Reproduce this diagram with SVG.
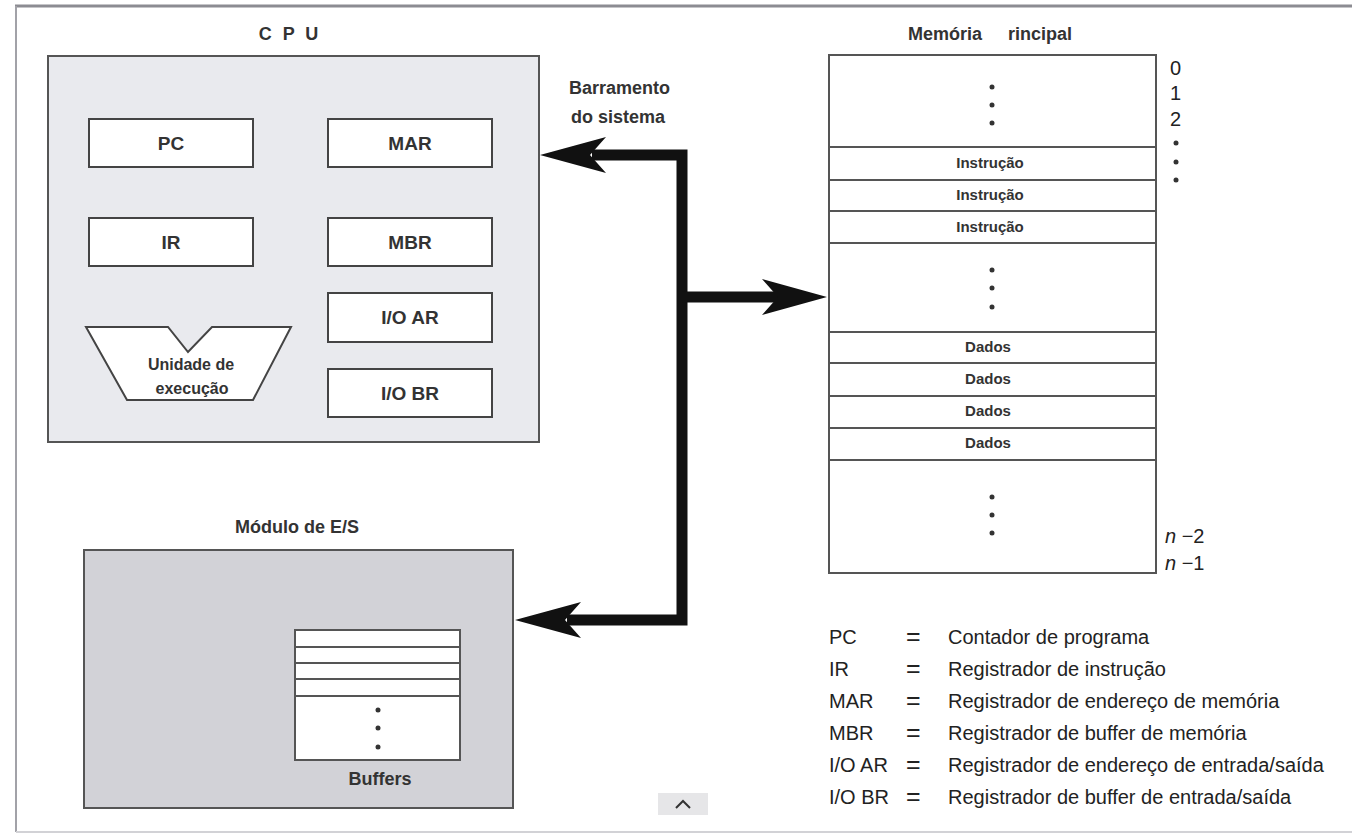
<svg xmlns="http://www.w3.org/2000/svg" width="1352" height="834" viewBox="0 0 1352 834">
  <defs>
    <style>
      .lbl { font-family: "Liberation Sans", Arial, sans-serif; font-weight: bold; fill: #333; }
      .reg { fill: #fff; stroke: #444; stroke-width: 2; }
      .cell { fill: #fff; stroke: #555; stroke-width: 2; }
      .div { stroke: #555; stroke-width: 2; }
      .leg { font-family: "Liberation Sans", Arial, sans-serif; font-size: 20px; fill: #222; }
      .eq { font-size: 25px; }
      .dot { fill: #333; }
      .bus { fill: none; stroke: #111; stroke-width: 11; stroke-linejoin: miter; }
      .head { fill: #111; }
    </style>
  </defs>

  <rect x="0" y="0" width="1352" height="834" fill="#fff"/>
  <!-- page frame -->
  <line x1="15" y1="6" x2="1352" y2="6" stroke="#8c8c92" stroke-width="3"/>
  <line x1="16" y1="6" x2="16" y2="832" stroke="#a2a2a8" stroke-width="2"/>
  <line x1="16" y1="832" x2="1352" y2="832" stroke="#d2d2d6" stroke-width="2"/>

  <!-- CPU -->
  <g id="cpu">
    <text class="lbl" x="290" y="40" font-size="18" text-anchor="middle" letter-spacing="3">C P U</text>
    <rect x="48" y="56" width="491" height="386" fill="#e9eaee" stroke="#555" stroke-width="2"/>
  </g>
  <g id="pc">
    <rect class="reg" x="89" y="119" width="164" height="48"/>
    <text class="lbl" x="171" y="150" font-size="19" text-anchor="middle">PC</text>
  </g>
  <g id="mar">
    <rect class="reg" x="328" y="119" width="164" height="48"/>
    <text class="lbl" x="410" y="150" font-size="19" text-anchor="middle">MAR</text>
  </g>
  <g id="ir">
    <rect class="reg" x="89" y="218" width="164" height="48"/>
    <text class="lbl" x="171" y="249" font-size="19" text-anchor="middle">IR</text>
  </g>
  <g id="mbr">
    <rect class="reg" x="328" y="218" width="164" height="48"/>
    <text class="lbl" x="410" y="249" font-size="19" text-anchor="middle">MBR</text>
  </g>
  <g id="ioar">
    <rect class="reg" x="328" y="293" width="164" height="49"/>
    <text class="lbl" x="410" y="324" font-size="19" text-anchor="middle">I/O AR</text>
  </g>
  <g id="iobr">
    <rect class="reg" x="328" y="369" width="164" height="48"/>
    <text class="lbl" x="410" y="400" font-size="19" text-anchor="middle">I/O BR</text>
  </g>
  <g id="exec-unit">
    <polygon class="reg" points="86,327 168,327 188,352 212,327 291,327 253,400 127,400"/>
    <text class="lbl" x="191" y="370" font-size="16" text-anchor="middle">Unidade de</text>
    <text class="lbl" x="192" y="394" font-size="16" text-anchor="middle">execução</text>
  </g>

  <!-- I/O module -->
  <g id="io-module">
    <text class="lbl" x="297" y="533" font-size="18" text-anchor="middle">Módulo de E/S</text>
    <rect x="84" y="550" width="429" height="258" fill="#d2d2d7" stroke="#555" stroke-width="2"/>
    <rect class="cell" x="295" y="630" width="165" height="130" stroke="#444"/>
    <line class="div" x1="295" y1="647" x2="460" y2="647"/>
    <line class="div" x1="295" y1="663" x2="460" y2="663"/>
    <line class="div" x1="295" y1="679" x2="460" y2="679"/>
    <line class="div" x1="295" y1="696" x2="460" y2="696"/>
    <circle class="dot" cx="378" cy="710" r="2.5"/>
    <circle class="dot" cx="378" cy="728" r="2.5"/>
    <circle class="dot" cx="378" cy="747" r="2.5"/>
    <text class="lbl" x="380" y="785" font-size="18" text-anchor="middle">Buffers</text>
  </g>

  <!-- Main memory -->
  <g id="memory">
    <text class="lbl" x="908" y="40" font-size="18">Memória</text>
    <text class="lbl" x="1008" y="40" font-size="18">rincipal</text>
    <rect class="cell" x="829" y="55" width="327" height="518"/>
    <line class="div" x1="829" y1="147" x2="1156" y2="147"/>
    <line class="div" x1="829" y1="180" x2="1156" y2="180"/>
    <line class="div" x1="829" y1="211" x2="1156" y2="211"/>
    <line class="div" x1="829" y1="243" x2="1156" y2="243"/>
    <line class="div" x1="829" y1="332" x2="1156" y2="332"/>
    <line class="div" x1="829" y1="363" x2="1156" y2="363"/>
    <line class="div" x1="829" y1="396" x2="1156" y2="396"/>
    <line class="div" x1="829" y1="428" x2="1156" y2="428"/>
    <line class="div" x1="829" y1="460" x2="1156" y2="460"/>
    <circle class="dot" cx="992" cy="87" r="2.5"/>
    <circle class="dot" cx="992" cy="105" r="2.5"/>
    <circle class="dot" cx="992" cy="123" r="2.5"/>
    <text class="lbl" x="990" y="168" font-size="15" text-anchor="middle">Instrução</text>
    <text class="lbl" x="990" y="200" font-size="15" text-anchor="middle">Instrução</text>
    <text class="lbl" x="990" y="232" font-size="15" text-anchor="middle">Instrução</text>
    <circle class="dot" cx="992" cy="270" r="2.5"/>
    <circle class="dot" cx="992" cy="288" r="2.5"/>
    <circle class="dot" cx="992" cy="307" r="2.5"/>
    <text class="lbl" x="988" y="352" font-size="15" text-anchor="middle">Dados</text>
    <text class="lbl" x="988" y="384" font-size="15" text-anchor="middle">Dados</text>
    <text class="lbl" x="988" y="416" font-size="15" text-anchor="middle">Dados</text>
    <text class="lbl" x="988" y="448" font-size="15" text-anchor="middle">Dados</text>
    <circle class="dot" cx="992" cy="497" r="2.5"/>
    <circle class="dot" cx="992" cy="515" r="2.5"/>
    <circle class="dot" cx="992" cy="533" r="2.5"/>
    <!-- addresses -->
    <text class="leg" x="1170" y="75" font-size="19">0</text>
    <text class="leg" x="1170" y="100" font-size="19">1</text>
    <text class="leg" x="1170" y="126" font-size="19">2</text>
    <circle class="dot" cx="1176" cy="143" r="2.5"/>
    <circle class="dot" cx="1176" cy="162" r="2.5"/>
    <circle class="dot" cx="1176" cy="180" r="2.5"/>
    <text class="leg" x="1165" y="543"><tspan font-style="italic">n</tspan> −2</text>
    <text class="leg" x="1165" y="570"><tspan font-style="italic">n</tspan> −1</text>
  </g>

  <!-- system bus -->
  <g id="bus">
    <text class="lbl" x="569" y="94" font-size="18">Barramento</text>
    <text class="lbl" x="571" y="123" font-size="18">do sistema</text>
    <path class="bus" d="M592,155 L682,155 L682,620 L567,620"/>
    <path class="bus" d="M682,297 L778,297"/>
    <path class="head" d="M540,155 L606,137 L590,155 L606,173 Z"/>
    <path class="head" d="M827,297 L762,279 L778,297 L762,315 Z"/>
    <path class="head" d="M515,620 L581,602 L565,620 L581,638 Z"/>
  </g>

  <!-- legend -->
  <g id="legend" class="leg">
    <text x="829" y="644">PC</text><text class="eq" x="906" y="645">=</text><text x="948" y="644">Contador de programa</text>
    <text x="829" y="676">IR</text><text class="eq" x="906" y="677">=</text><text x="948" y="676">Registrador de instrução</text>
    <text x="829" y="708">MAR</text><text class="eq" x="906" y="709">=</text><text x="948" y="708">Registrador de endereço de memória</text>
    <text x="829" y="740">MBR</text><text class="eq" x="906" y="741">=</text><text x="948" y="740">Registrador de buffer de memória</text>
    <text x="829" y="772">I/O AR</text><text class="eq" x="906" y="773">=</text><text x="948" y="772">Registrador de endereço de entrada/saída</text>
    <text x="829" y="804">I/O BR</text><text class="eq" x="906" y="805">=</text><text x="948" y="804">Registrador de buffer de entrada/saída</text>
  </g>

  <!-- scroll-up button -->
  <g id="scroll-button">
    <rect x="658" y="793" width="50" height="22" fill="#e6e6e8"/>
    <polyline points="676,808 683,801 690,808" fill="none" stroke="#333" stroke-width="2"/>
  </g>
</svg>
